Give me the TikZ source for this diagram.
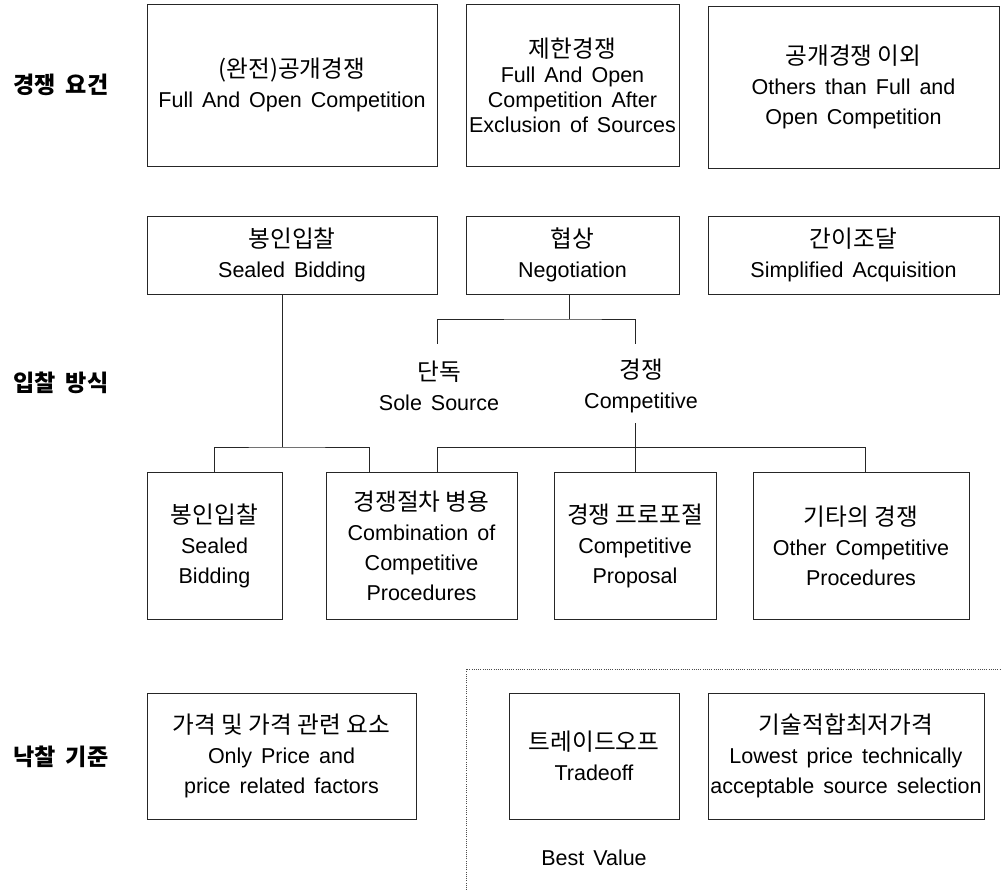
\documentclass[tikz,border=0pt]{standalone}
\usepackage{fontspec}
\setmainfont{Liberation Sans}[WordSpace=1.5]
\newfontfamily\kr{Noto Sans CJK KR}[Scale=1.1]
\begin{document}
\begin{tikzpicture}[x=1pt,y=-1pt,
  box/.style={draw=black!85, line width=0.9pt, inner sep=0pt, align=center,
    font=\fontsize{21.5}{30}\selectfont, text=black},
  lbl/.style={inner sep=0pt, align=center, font=\fontsize{21.5}{30}\selectfont, text=black},
  side/.style={inner sep=0pt, font=\kr\bfseries\fontsize{21}{26}\selectfont, text=black},
  conn/.style={draw=black!85, line width=0.9pt},
  dots/.style={draw=black!70, line width=0.8pt, dash pattern=on 0.9pt off 1.3pt}]
\useasboundingbox (0,0) rectangle (1001,890);

% side labels
\node[side] (l1) at (61,85) {경쟁\hspace{10pt}요건};
\node[side] (l2) at (61,383) {입찰\hspace{10pt}방식};
\node[side] (l3) at (61,757) {낙찰\hspace{10pt}기준};

% row 1
\node[box, minimum width=290pt, minimum height=162pt] (b1) at (292,85)
  {{\kr (완전)공개경쟁}\\Full And Open Competition};
\node[box, minimum width=213pt, minimum height=162pt, font=\fontsize{21.5}{25}\selectfont] (b2) at (572.5,85)
  {{\kr 제한경쟁}\\Full And Open\\Competition After\\Exclusion of Sources};
\node[box, minimum width=291pt, minimum height=162pt] (b3) at (853.5,87)
  {{\kr 공개경쟁 이외}\\Others than Full and\\Open Competition};

% row 2
\node[box, minimum width=290pt, minimum height=78pt] (s1) at (292,255)
  {{\kr 봉인입찰}\\Sealed Bidding};
\node[box, minimum width=213pt, minimum height=78pt] (s2) at (572.5,255)
  {{\kr 협상}\\Negotiation};
\node[box, minimum width=291pt, minimum height=78pt] (s3) at (853.5,255)
  {{\kr 간이조달}\\Simplified Acquisition};

% sole / competitive labels
\node[lbl] (sole) at (439,386) {{\kr 단독}\\Sole Source};
\node[lbl] (comp) at (641,386) {{\kr 경쟁}\\Competitive};

% row 3
\node[box, minimum width=135pt, minimum height=147pt] (a) at (214.5,545.5)
  {{\kr 봉인입찰}\\Sealed\\Bidding};
\node[box, minimum width=191pt, minimum height=147pt] (b) at (421.5,545.5)
  {{\kr 경쟁절차 병용}\\Combination of\\Competitive\\Procedures};
\node[box, minimum width=162pt, minimum height=147pt] (c) at (635,545.5)
  {{\kr 경쟁 프로포절}\\Competitive\\Proposal};
\node[box, minimum width=216pt, minimum height=147pt] (d) at (861,545.5)
  {{\kr 기타의 경쟁}\\Other Competitive\\Procedures};

% row 4
\node[box, minimum width=269pt, minimum height=126pt] (p1) at (281.5,756)
  {{\kr 가격 및 가격 관련 요소}\\Only Price and\\price related factors};
\node[box, minimum width=170pt, minimum height=126pt] (p2) at (594,756)
  {{\kr 트레이드오프}\\Tradeoff};
\node[box, minimum width=276pt, minimum height=126pt] (p3) at (846,756)
  {{\kr 기술적합최저가격}\\Lowest price technically\\acceptable source selection};
\node[lbl] (bv) at (594,858) {Best Value};

% dotted region
\draw[dots] (466,890) -- (466,669) -- (1001,669);

% connectors: negotiation
\coordinate (negj) at (569,319);
\coordinate (solet) at (437,344);
\coordinate (compt) at (635,344);
\draw[conn] (s2.south -| negj) -- (negj);
\draw[conn] (solet) |- (negj) -| (compt);

% competitive to row 3
\coordinate (compb) at (635,423);
\coordinate (barL) at (437,447);
\coordinate (barR) at (865,447);
\draw[conn] (compb) -- (c.north);
\draw[conn] (b.north -| barL) -- (barL) -- (barR) -- (d.north -| barR);

% sealed bidding to row 3
\coordinate (sbj) at (282,447);
\coordinate (bl) at (369,472);
\draw[conn] (s1.south -| sbj) -- (sbj);
\draw[conn] (a.north) |- (sbj) -| (bl);
\end{tikzpicture}
\end{document}
